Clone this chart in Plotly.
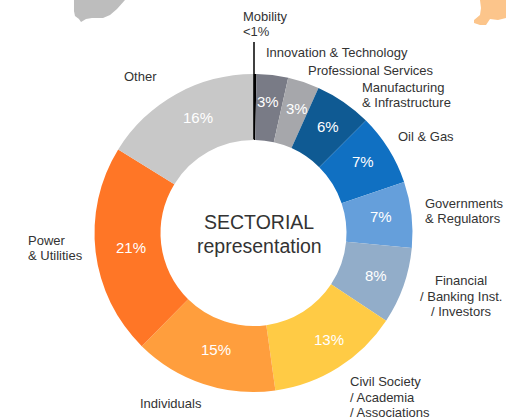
import plotly.graph_objects as go

W, H = 506, 419
categories = ["Mobility", "Innovation & Technology", "Professional Services",
              "Manufacturing & Infrastructure", "Oil & Gas", "Governments & Regulators",
              "Financial / Banking Inst. / Investors", "Civil Society / Academia / Associations",
              "Individuals", "Power & Utilities", "Other"]
values = [0.3, 3.2, 3.2, 5.8, 7.3, 6.7, 7.8, 13.5, 14.6, 21.4, 16.2]
value_labels = ["", "3%", "3%", "6%", "7%", "7%", "8%", "13%", "15%", "21%", "16%"]
value_label_xy = [None, (268, 101), (297, 108), (328, 126), (363, 161), (381, 216),
                  (376, 275), (329, 339), (216, 349), (131, 248), (198, 117)]
colors = ["#000000", "#797b86", "#a6a7ab", "#0f5a93", "#1070c2", "#659fdb",
          "#92adc9", "#ffcb45", "#ff9e3d", "#ff7626", "#c8c8c8"]

outer_labels = [
    (["Mobility", "<1%"], 241, 24, "left"),
    (["Innovation & Technology"], 264, 53, "left"),
    (["Professional Services"], 306, 70, "left"),
    (["Manufacturing", "& Infrastructure"], 360, 95, "left"),
    (["Oil & Gas"], 396, 136, "left"),
    (["Governments", "& Regulators"], 423, 211, "left"),
    (["Financial", "/ Banking Inst.", "/ Investors"], 461, 296, "center"),
    (["Civil Society", "/ Academia", "/ Associations"], 348, 397, "left"),
    (["Individuals"], 138, 403, "left"),
    (["Power", "& Utilities"], 26, 248, "left"),
    (["Other"], 122, 76, "left"),
]
center_lines = ["SECTORIAL", "representation"]

cx, cy, r = 253.5, 233, 159
fig = go.Figure(go.Pie(
    labels=categories, values=values, textinfo="none",
    hole=0.585, sort=False, direction="clockwise", rotation=0,
    marker=dict(colors=colors, line=dict(width=0)),
    domain=dict(x=[(cx - r) / W, (cx + r) / W], y=[(H - cy - r) / H, (H - cy + r) / H]),
    showlegend=False,
))


def label(text, x, y, anchor, size, color):
    fig.add_annotation(text=text, x=x / W, y=1 - y / H, xref="paper", yref="paper",
                       xanchor=anchor, yanchor="middle", showarrow=False,
                       font=dict(family="Liberation Sans", size=size, color=color))


for text, xy in zip(value_labels, value_label_xy):
    if xy:
        label(text, xy[0], xy[1], "center", 15, "#ffffff")

for lines, x, y, anchor in outer_labels:
    top = y - (len(lines) - 1) * 15.6 / 2
    for i, line in enumerate(lines):
        label(line, x, top + i * 15.6, anchor, 13, "#333333")

for i, line in enumerate(center_lines):
    label(line, 259, 221.5 + i * 24, "center", 19.5, "#333333")

# Mobility leader line and map fragments at the top edge
fig.add_shape(type="line", xref="paper", yref="paper", x0=254 / W, x1=254 / W,
              y0=1 - 42 / H, y1=1 - 139 / H, line=dict(color="#000000", width=1.5))


def px_path(pts):
    return "M" + " L".join(f"{x / W:.4f},{1 - y / H:.4f}" for x, y in pts) + " Z"


grey = [(74, 0), (125, 0), (117, 9), (110, 15), (103, 18), (92, 18), (86, 19), (81, 22),
        (79, 19), (75, 16), (74, 11)]
orange = [(480, 0), (506, 0), (506, 18), (498, 20), (490, 19), (486, 25), (480, 25),
          (474, 23), (474, 20), (480, 15), (481, 8)]
fig.add_shape(type="path", xref="paper", yref="paper", path=px_path(grey),
              fillcolor="#bdbdbd", line=dict(width=0))
fig.add_shape(type="path", xref="paper", yref="paper", path=px_path(orange),
              fillcolor="#fcc58b", line=dict(width=0))

fig.update_layout(width=W, height=H, margin=dict(l=0, r=0, t=0, b=0),
                  paper_bgcolor="#ffffff", plot_bgcolor="#ffffff",
                  font=dict(family="Liberation Sans"))
fig.write_html("out.html", config={"displayModeBar": False},
               post_script="document.body.style.margin='0';document.documentElement.style.overflow='hidden';")
